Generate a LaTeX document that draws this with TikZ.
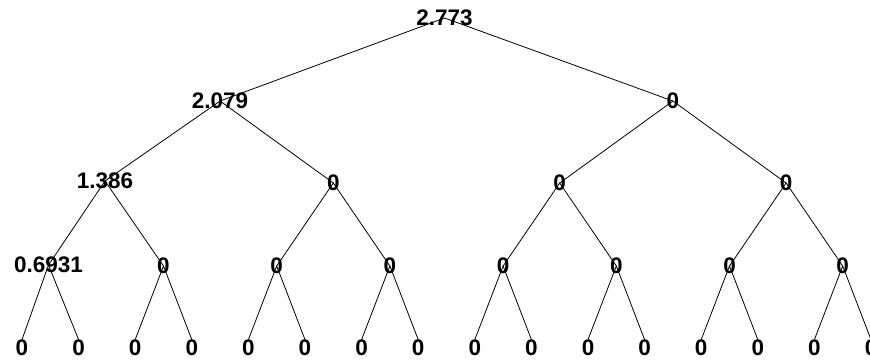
\documentclass[tikz,border=0pt]{standalone}
\usepackage{fontspec}
\setmainfont{Liberation Sans}
\begin{document}
\begin{tikzpicture}[x=1pt,y=-1pt,line width=0.8pt,
  lbl/.style={inner sep=0pt,font=\fontsize{22.5}{22.5}\selectfont\bfseries}]
\useasboundingbox (0,0) rectangle (870,359);
% values
\node[lbl] (r) at (444.5,18) {2.773};
\node[lbl] (a1) at (220.1,101) {2.079};
\node[lbl] (a2) at (672.9,101) {0};
\node[lbl] (b1) at (105,181) {1.386};
\foreach \i/\x in {2/333.3,3/559.7,4/786.1} \node[lbl] (b\i) at (\x,183) {0};
\node[lbl] (c1) at (48.5,265) {0.6931};
\foreach \i in {2,...,8} \node[lbl] (c\i) at ({50.3+113.2*(\i-1)},266) {0};
\foreach \i in {1,...,16} \node[lbl] (d\i) at ({22+56.6*(\i-1)},348) {0};
% branches
\draw (a1.center) -- (r.center) -- (a2.center);
\foreach \i in {1,2} {
  \pgfmathtruncatemacro\lo{2*\i-1}
  \pgfmathtruncatemacro\hi{2*\i}
  \draw (b\lo.center) -- (a\i.center) -- (b\hi.center);
}
\foreach \i in {1,...,4} {
  \pgfmathtruncatemacro\lo{2*\i-1}
  \pgfmathtruncatemacro\hi{2*\i}
  \draw (c\lo.center) -- (b\i.center) -- (c\hi.center);
}
\foreach \i in {1,...,8} {
  \pgfmathtruncatemacro\lo{2*\i-1}
  \pgfmathtruncatemacro\hi{2*\i}
  \draw (d\lo.north) -- (c\i.center) -- (d\hi.north);
}
\end{tikzpicture}
\end{document}
